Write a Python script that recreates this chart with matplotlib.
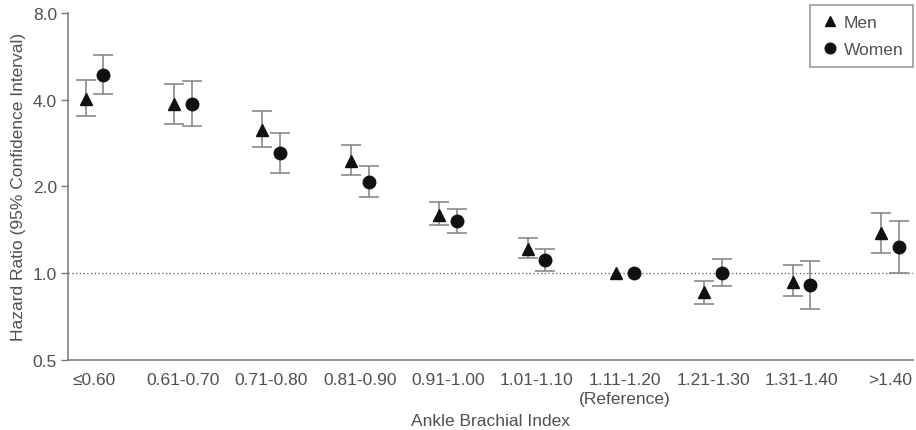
import matplotlib
matplotlib.use("Agg")
import matplotlib.pyplot as plt
from matplotlib.ticker import FixedLocator, NullLocator
import numpy as np

categories = ["\u22640.60", "0.61-0.70", "0.71-0.80", "0.81-0.90", "0.91-1.00",
              "1.01-1.10", "1.11-1.20\n(Reference)", "1.21-1.30", "1.31-1.40", ">1.40"]

men_hr = [4.02, 3.85, 3.14, 2.45, 1.59, 1.21, 1.00, 0.86, 0.93, 1.38]
men_lo = [3.52, 3.29, 2.73, 2.19, 1.47, 1.13, 1.00, 0.78, 0.83, 1.17]
men_hi = [4.70, 4.54, 3.64, 2.78, 1.77, 1.32, 1.00, 0.94, 1.07, 1.62]

women_hr = [4.87, 3.85, 2.62, 2.07, 1.52, 1.11, 1.00, 1.00, 0.91, 1.23]
women_lo = [4.18, 3.25, 2.22, 1.83, 1.38, 1.02, 1.00, 0.90, 0.75, 1.00]
women_hi = [5.71, 4.63, 3.07, 2.36, 1.67, 1.21, 1.00, 1.12, 1.10, 1.52]

yticks = [0.5, 1.0, 2.0, 4.0, 8.0]
ytick_labels = ["0.5", "1.0", "2.0", "4.0", "8.0"]

plt.rcParams['font.family'] = ['Liberation Sans', 'DejaVu Sans']

fig = plt.figure(figsize=(9.16, 4.31), dpi=100)
ax = fig.add_axes([68/916, 1 - 360.7/431, (913-68)/916, (360.7-14)/431])

x = np.arange(len(categories))
off = 0.1
text_col = '#505050'
bar_col = '#808080'
mk_col = '#111111'
fs = 12.5

def draw(xs, hr, lo, hi, marker, ms, label):
    hr = np.array(hr); lo = np.array(lo); hi = np.array(hi)
    yerr = np.vstack([hr - lo, hi - hr])
    has = (hi - lo) > 0
    ax.errorbar(xs[has], hr[has], yerr=yerr[:, has], fmt='none', ecolor=bar_col,
                elinewidth=1.1, capsize=7, capthick=1.1, zorder=2)
    ax.plot(xs, hr, linestyle='none', marker=marker, markersize=ms, color=mk_col,
            label=label, zorder=3)

ax.axhline(1.0, color='#555555', linestyle=(0, (1, 2)), linewidth=0.9, zorder=1)
draw(x - off, men_hr, men_lo, men_hi, '^', 8.5, 'Men')
draw(x + off, women_hr, women_lo, women_hi, 'o', 9, 'Women')

ax.set_yscale('log', base=2)
ax.set_ylim(0.5, 8.0)
ax.yaxis.set_major_locator(FixedLocator(yticks))
ax.yaxis.set_minor_locator(NullLocator())
ax.set_yticklabels(ytick_labels)
ax.set_xlim(-0.3, 9.26)
ax.set_xticks(x)
ax.set_xticklabels(categories, linespacing=1.35)

for s in ['top', 'right']:
    ax.spines[s].set_visible(False)
for s in ['left', 'bottom']:
    ax.spines[s].set_color('#777777')
    ax.spines[s].set_linewidth(1.1)

ax.tick_params(axis='y', direction='out', length=5, width=1, color='#777777',
               labelsize=fs, labelcolor=text_col, pad=3)
ax.tick_params(axis='x', length=0, labelsize=fs, labelcolor=text_col, pad=9)

ax.set_ylabel("Hazard Ratio (95% Confidence Interval)", fontsize=fs, color=text_col, labelpad=5)
ax.set_xlabel("Ankle Brachial Index", fontsize=fs, color=text_col, labelpad=5)

leg = ax.legend(loc='upper right', bbox_to_anchor=(913/916, 1 - 6/431),
                bbox_transform=fig.transFigure, frameon=True, fancybox=False,
                fontsize=fs, handletextpad=0.2, handlelength=1.2,
                borderpad=0.55, labelspacing=0.7, borderaxespad=0,
                markerscale=0.85)
leg.get_frame().set_edgecolor('#777777')
leg.get_frame().set_linewidth(1.1)
for t in leg.get_texts():
    t.set_color(text_col)

fig.savefig("out.png", dpi=100)
